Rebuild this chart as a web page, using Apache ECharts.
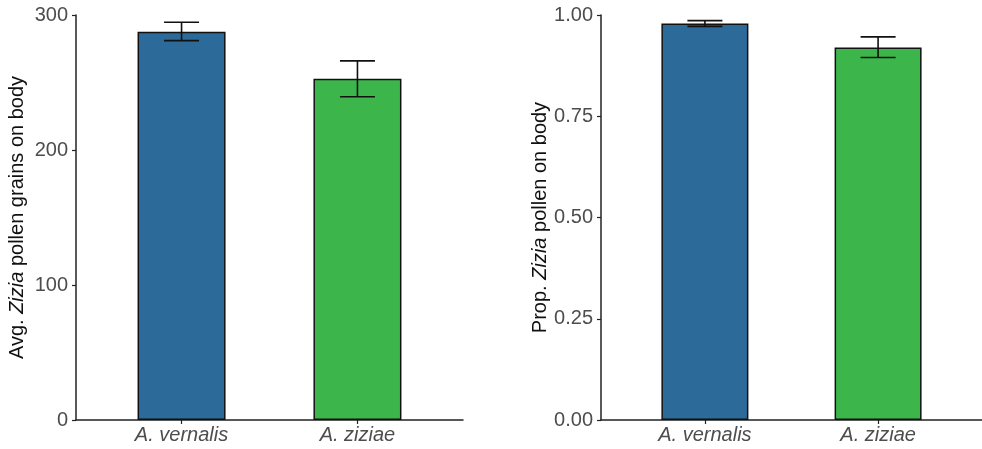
<!DOCTYPE html>
<html>
<head>
<meta charset="utf-8">
<script src="https://cdn.jsdelivr.net/npm/echarts@6/dist/echarts.min.js"></script>
<style>
  html, body { margin: 0; padding: 0; background: #ffffff; }
  #chart { width: 982px; height: 449px; }
</style>
</head>
<body>
<div id="chart"></div>
<script>
// 物种类别
var species = ["A. vernalis", "A. ziziae"];
var speciesPos = [1, 2];
var barColors = ["#2b6a99", "#3cb64b"];
// 左图：平均花粉粒数
var avgGrains = [287.6, 252.8];
var avgLow = [281.0, 239.5];
var avgHigh = [294.6, 266.0];
// 右图：花粉比例
var propPollen = [0.979, 0.920];
var propLow = [0.972, 0.895];
var propHigh = [0.986, 0.946];
// 刻度
var leftTicks = [0, 100, 200, 300];
var rightTicks = [0, 0.25, 0.5, 0.75, 1.0];

var fontFam = "Liberation Sans, Arial, sans-serif";
var axisColor = "#222222";
var labelColor = "#4d4d4d";

function barData(vals) {
    return vals.map(function (v, i) {
        return { value: [speciesPos[i], v], itemStyle: { color: barColors[i] } };
    });
}

function errData(low, high) {
    return low.map(function (v, i) {
        return [speciesPos[i], v, high[i]];
    });
}

function renderErr(params, api) {
    var x = api.value(0);
    var lo = api.coord([x, api.value(1)]);
    var hi = api.coord([x, api.value(2)]);
    var half = 17.5;
    var st = { stroke: "#111111", lineWidth: 1.6 };
    return {
        type: "group",
        children: [
            { type: "line", shape: { x1: lo[0], y1: lo[1], x2: hi[0], y2: hi[1] }, style: st },
            { type: "line", shape: { x1: lo[0] - half, y1: lo[1], x2: lo[0] + half, y2: lo[1] }, style: st },
            { type: "line", shape: { x1: hi[0] - half, y1: hi[1], x2: hi[0] + half, y2: hi[1] }, style: st }
        ]
    };
}

function xAxisCfg(idx) {
    return {
        type: "value",
        gridIndex: idx,
        min: 0.4,
        max: 2.6,
        splitLine: { show: false },
        axisLine: { lineStyle: { color: axisColor, width: 1.5 } },
        axisTick: { customValues: speciesPos, length: 4, lineStyle: { color: axisColor, width: 1.2 } },
        axisLabel: {
            customValues: speciesPos,
            formatter: function (v) { return species[Math.round(v) - 1] || ""; },
            fontStyle: "italic",
            fontSize: 20,
            fontFamily: fontFam,
            color: labelColor,
            margin: 5
        }
    };
}

function yAxisCfg(idx, ticks, nameText, gap, fmt) {
    return {
        type: "value",
        gridIndex: idx,
        min: ticks[0],
        max: ticks[ticks.length - 1],
        interval: ticks[1] - ticks[0],
        splitLine: { show: false },
        axisLine: { show: true, lineStyle: { color: axisColor, width: 1.5 } },
        axisTick: { show: true, length: 4, lineStyle: { color: axisColor, width: 1.2 } },
        axisLabel: {
            fontSize: 20,
            fontFamily: fontFam,
            color: labelColor,
            margin: 8,
            formatter: fmt
        },
        name: nameText,
        nameLocation: "middle",
        nameGap: gap,
        nameTextStyle: {
            fontSize: 20,
            fontFamily: fontFam,
            color: "#111111",
            rich: {
                n: { fontSize: 20, fontFamily: fontFam, color: "#111111" },
                i: { fontSize: 20, fontFamily: fontFam, color: "#111111", fontStyle: "italic" }
            }
        }
    };
}

var myChart = echarts.init(document.getElementById("chart"));
var option = {
    backgroundColor: "#ffffff",
    animation: false,
    grid: [
        { left: 76, right: 519, top: 15, bottom: 29 },
        { left: 601, right: 0, top: 15, bottom: 29 }
    ],
    xAxis: [xAxisCfg(0), xAxisCfg(1)],
    yAxis: [
        yAxisCfg(0, leftTicks, "{n|Avg. }{i|Zizia}{n| pollen grains on body}", 49, function (v) { return String(v); }),
        yAxisCfg(1, rightTicks, "{n|Prop. }{i|Zizia}{n| pollen on body}", 51, function (v) { return v.toFixed(2); })
    ],
    series: [
        {
            type: "bar",
            xAxisIndex: 0,
            yAxisIndex: 0,
            barWidth: 88,
            data: barData(avgGrains),
            itemStyle: { borderColor: "#111111", borderWidth: 1.5 }
        },
        {
            type: "custom",
            xAxisIndex: 0,
            yAxisIndex: 0,
            renderItem: renderErr,
            encode: { x: 0, y: [1, 2] },
            data: errData(avgLow, avgHigh),
            z: 5
        },
        {
            type: "bar",
            xAxisIndex: 1,
            yAxisIndex: 1,
            barWidth: 87,
            data: barData(propPollen),
            itemStyle: { borderColor: "#111111", borderWidth: 1.5 }
        },
        {
            type: "custom",
            xAxisIndex: 1,
            yAxisIndex: 1,
            renderItem: renderErr,
            encode: { x: 0, y: [1, 2] },
            data: errData(propLow, propHigh),
            z: 5
        }
    ]
};
myChart.setOption(option);
</script>
</body>
</html>
